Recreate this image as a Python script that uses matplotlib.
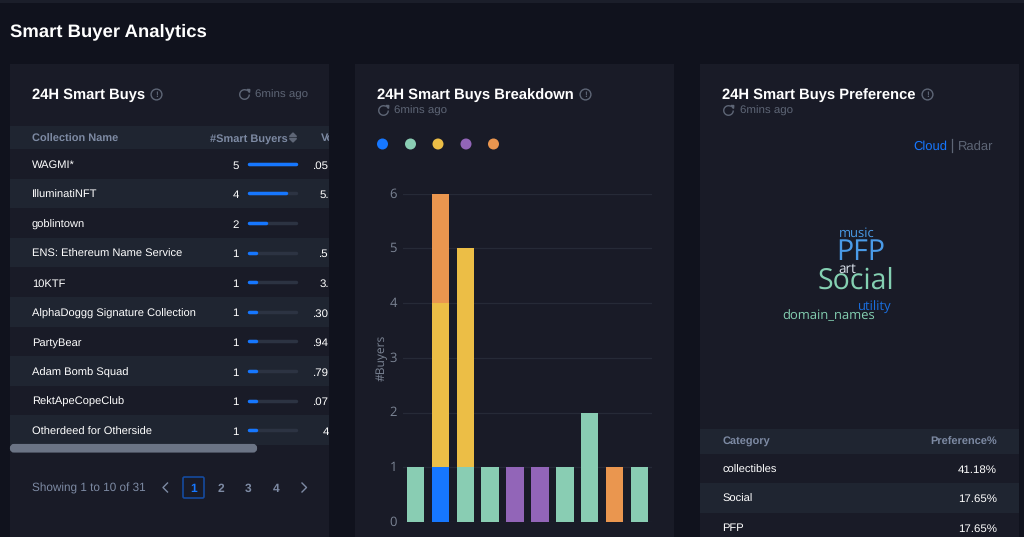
import matplotlib
matplotlib.use("Agg")
from matplotlib import pyplot as plt
from matplotlib.patches import Rectangle, FancyBboxPatch, Arc, Circle, Polygon
from matplotlib.transforms import ScaledTranslation

# --- data ---
collections = ["WAGMI*", "IlluminatiNFT", "goblintown", "ENS: Ethereum Name Service", "10KTF",
               "AlphaDoggg Signature Collection", "PartyBear", "Adam Bomb Squad",
               "RektApeCopeClub", "Otherdeed for Otherside"]
smart_buyers = [5, 4, 2, 1, 1, 1, 1, 1, 1, 1]
volume_clipped = [".05", "5.", "", ".5", "3.", ".30", ".94", ".79", ".07", "4"]

bar_slots = list(range(10))
blue = [0, 1, 0, 0, 0, 0, 0, 0, 0, 0]
green = [1, 0, 1, 1, 0, 0, 1, 2, 0, 1]
yellow = [0, 3, 4, 0, 0, 0, 0, 0, 0, 0]
purple = [0, 0, 0, 0, 1, 1, 0, 0, 0, 0]
orange = [0, 2, 0, 0, 0, 0, 0, 0, 1, 0]

pref_categories = ["collectibles", "Social", "PFP"]
pref_values = ["41.18%", "17.65%", "17.65%"]

cloud_words = ["music", "PFP", "Social", "art", "utility", "domain_names"]
cloud_colours = ["#4a9be8", "#4a9be8", "#84d0b2", "#dfe6f0", "#1a6fe0", "#84d0b2"]

# --- colours ---
PAGE = "#10121d"
CARD = "#191b27"
BAND = "#1f2531"
WHITE = "#ffffff"
MUTED = "#7d8aa3"
GREY = "#5e6676"
AXIS = "#7b8494"
C_BLUE = "#1677ff"
C_GREEN = "#89cdb3"
C_YELLOW = "#ecbe46"
C_PURPLE = "#9265b8"
C_ORANGE = "#ea964f"

plt.rcParams["font.family"] = ["Liberation Sans", "DejaVu Sans"]
plt.rcParams["text.hinting"] = "no_hinting"

fig = plt.figure(figsize=(10.24, 5.37), dpi=100, facecolor=PAGE)

# full figure axes in pixel units, for the page layout
bg = fig.add_axes([0, 0, 1, 1])
bg.set_xlim(0, 1024)
bg.set_ylim(537, 0)
bg.axis("off")


def px(size):
    return size * 0.72


def label(x, y, s, color, size, **kw):
    # y is the middle of the line; go through the baseline so descenders do not move the text
    return bg.text(x, y + size * 0.36, s, color=color, fontsize=px(size), va="baseline", **kw)


def info_icon(x, y):
    bg.add_patch(Circle((x, y), 5.4, fill=False, ec=GREY, lw=1.0))
    bg.text(x, y, "!", color=GREY, fontsize=px(8.5), ha="center", va="center", weight="bold")


def refresh_icon(x, y):
    bg.add_patch(Arc((x, y), 9.5, 9.5, theta1=0, theta2=300, color=GREY, lw=1.0))
    bg.add_patch(Polygon([(x + 2.5, y - 5), (x + 5.3, y - 5), (x + 5, y - 2)], color=GREY))


bg.add_patch(Rectangle((0, 0), 1024, 3, color="#1b1e2a", lw=0))
label(10, 29.5, "Smart Buyer Analytics", "white", 18.5, weight="bold")

for left in (10, 355, 700):
    bg.add_patch(Rectangle((left, 64), 319, 473, color=CARD, lw=0, zorder=0))

# --- card 1: table ---
label(32, 94, "24H Smart Buys", "white", 14.7, weight="bold")
info_icon(156.5, 94.5)
refresh_icon(244.5, 94.5)
label(255, 94, "6mins ago", GREY, 11.5)

row_h = 29.6
table_top = 149
bg.add_patch(Rectangle((10, 126), 319, 23, color=BAND, lw=0, zorder=0))
label(32, 137.5, "Collection Name", MUTED, 11, weight="bold")
label(288, 137.5, "#Smart Buyers", MUTED, 11, weight="bold", ha="right")
bg.add_patch(Polygon([(289.5, 136.5), (296.5, 136.5), (293, 133)], color=GREY))
bg.add_patch(Polygon([(289.5, 138.5), (296.5, 138.5), (293, 142)], color=GREY))
label(321, 137.5, "Vol", MUTED, 11, weight="bold")

track_len = 50
unit = track_len / max(smart_buyers)
for i, name in enumerate(collections):
    y = table_top + row_h * (i + 0.5)
    if i % 2 == 1:
        bg.add_patch(Rectangle((10, table_top + row_h * i), 319, row_h, color=BAND, lw=0, zorder=0))
    label(32, y + 0.5, name, WHITE, 11.1)
    label(239, y + 0.5, str(smart_buyers[i]), WHITE, 11.5, ha="right")
    bg.plot([248.8, 248.8 + track_len - 3], [y, y], color="#2c3342", lw=2.5, solid_capstyle="round", zorder=2)
    bg.plot([248.8, 247.3 + smart_buyers[i] * unit - 1.5], [y, y], color=C_BLUE, lw=2.5,
            solid_capstyle="round", zorder=3)
    label(329, y + 0.5, volume_clipped[i], WHITE, 11.5, ha="right")

# the table scrolls sideways, the gap hides what sticks out of the card
bg.add_patch(Rectangle((329, 64), 26, 473, color=PAGE, lw=0, zorder=5))

bg.add_patch(FancyBboxPatch((12, 446), 243, 4.5, boxstyle="round,pad=0,rounding_size=2",
                            ec="#6b7485", fc="#6b7485", lw=3))
label(32, 487.5, "Showing 1 to 10 of 31", MUTED, 11.7)
bg.plot([167.5, 163, 167.5], [483, 487.5, 492], color=MUTED, lw=1.0)
bg.plot([302, 306.5, 302], [483, 487.5, 492], color=MUTED, lw=1.0)
bg.add_patch(FancyBboxPatch((183, 477), 21, 21, boxstyle="round,pad=0,rounding_size=1.5",
                            fc="none", ec="#154a9e", lw=1.2))
label(193.5, 487.5, "1", C_BLUE, 12, weight="bold", ha="center")
for page_no, x in zip(["2", "3", "4"], [221, 248.5, 276]):
    label(x, 487.5, page_no, MUTED, 12, weight="bold", ha="center")

# --- card 2: stacked bars ---
label(377, 94, "24H Smart Buys Breakdown", "white", 14.7, weight="bold")
info_icon(585.5, 94.5)
refresh_icon(383.5, 110.5)
label(394.5, 110, "6mins ago", GREY, 11.5)
for colour, x in zip([C_BLUE, C_GREEN, C_YELLOW, C_PURPLE, C_ORANGE], [382.5, 410.5, 438, 466, 493.5]):
    bg.add_patch(Circle((x, 144), 5.5, color=colour, lw=0))

ax = fig.add_axes([403 / 1024, 15 / 537, 249 / 1024, 328.5 / 537])
ax.patch.set_alpha(0)
ax.set_xlim(-0.5, 9.5)
ax.set_ylim(0, 6)
bottom = [0] * 10
for values, colour in [(blue, C_BLUE), (green, C_GREEN), (yellow, C_YELLOW),
                       (purple, C_PURPLE), (orange, C_ORANGE)]:
    ax.bar(bar_slots, values, bottom=bottom, width=0.7, color=colour, lw=0, zorder=3)
    bottom = [b + v for b, v in zip(bottom, values)]
for side in ax.spines.values():
    side.set_visible(False)
ax.set_xticks([])
ax.set_yticks(range(7))
ax.tick_params(axis="y", length=0, pad=4.4, labelcolor=AXIS, labelsize=px(13))
nudge_up = ScaledTranslation(0, 1 / 100, fig.dpi_scale_trans)
for tick in ax.get_yticklabels():
    tick.set_family("Open Sans")
    tick.set_transform(tick.get_transform() + nudge_up)
ax.grid(axis="y", color="#262a37", lw=0.9, zorder=0)
ax.set_axisbelow(True)
ax.set_ylabel("#Buyers", color=AXIS, fontsize=px(12), family="Open Sans", labelpad=1)

# --- card 3: word cloud and table ---
label(722.5, 94, "24H Smart Buys Preference", "white", 14.7, weight="bold")
info_icon(927.5, 94.5)
refresh_icon(728.5, 110.5)
label(740, 110, "6mins ago", GREY, 11.5)
label(947, 145, "Cloud", C_BLUE, 13, ha="right")
bg.plot([952, 952], [139, 152], color=GREY, lw=0.9)
label(958, 145, "Radar", GREY, 13)

cloud_sizes = [13, 28.5, 28.5, 13.5, 13, 13]
cloud_x = [857, 861, 856.3, 847, 875, 829]
cloud_baseline = [236.7, 260, 288.3, 273.3, 310.7, 319.3]
for word, size, colour, x, y in zip(cloud_words, cloud_sizes, cloud_colours, cloud_x, cloud_baseline):
    bg.text(x, y, word, color=colour, fontsize=px(size), family="Open Sans", ha="center", va="baseline")

bg.add_patch(Rectangle((700, 429), 319, 24.5, color=BAND, lw=0, zorder=0))
label(722.5, 441, "Category", MUTED, 11, weight="bold")
label(997, 441, "Preference%", MUTED, 11, weight="bold", ha="right")
for i, (cat, val) in enumerate(zip(pref_categories, pref_values)):
    y = 468.5 + 29.5 * i
    if i % 2 == 1:
        bg.add_patch(Rectangle((700, y - 14.75), 319, 29.5, color=BAND, lw=0, zorder=0))
    label(722.5, y, cat, WHITE, 11.1)
    label(997, y, val, WHITE, 11.5, ha="right")

fig.savefig("out.png", dpi=100, facecolor=PAGE)
